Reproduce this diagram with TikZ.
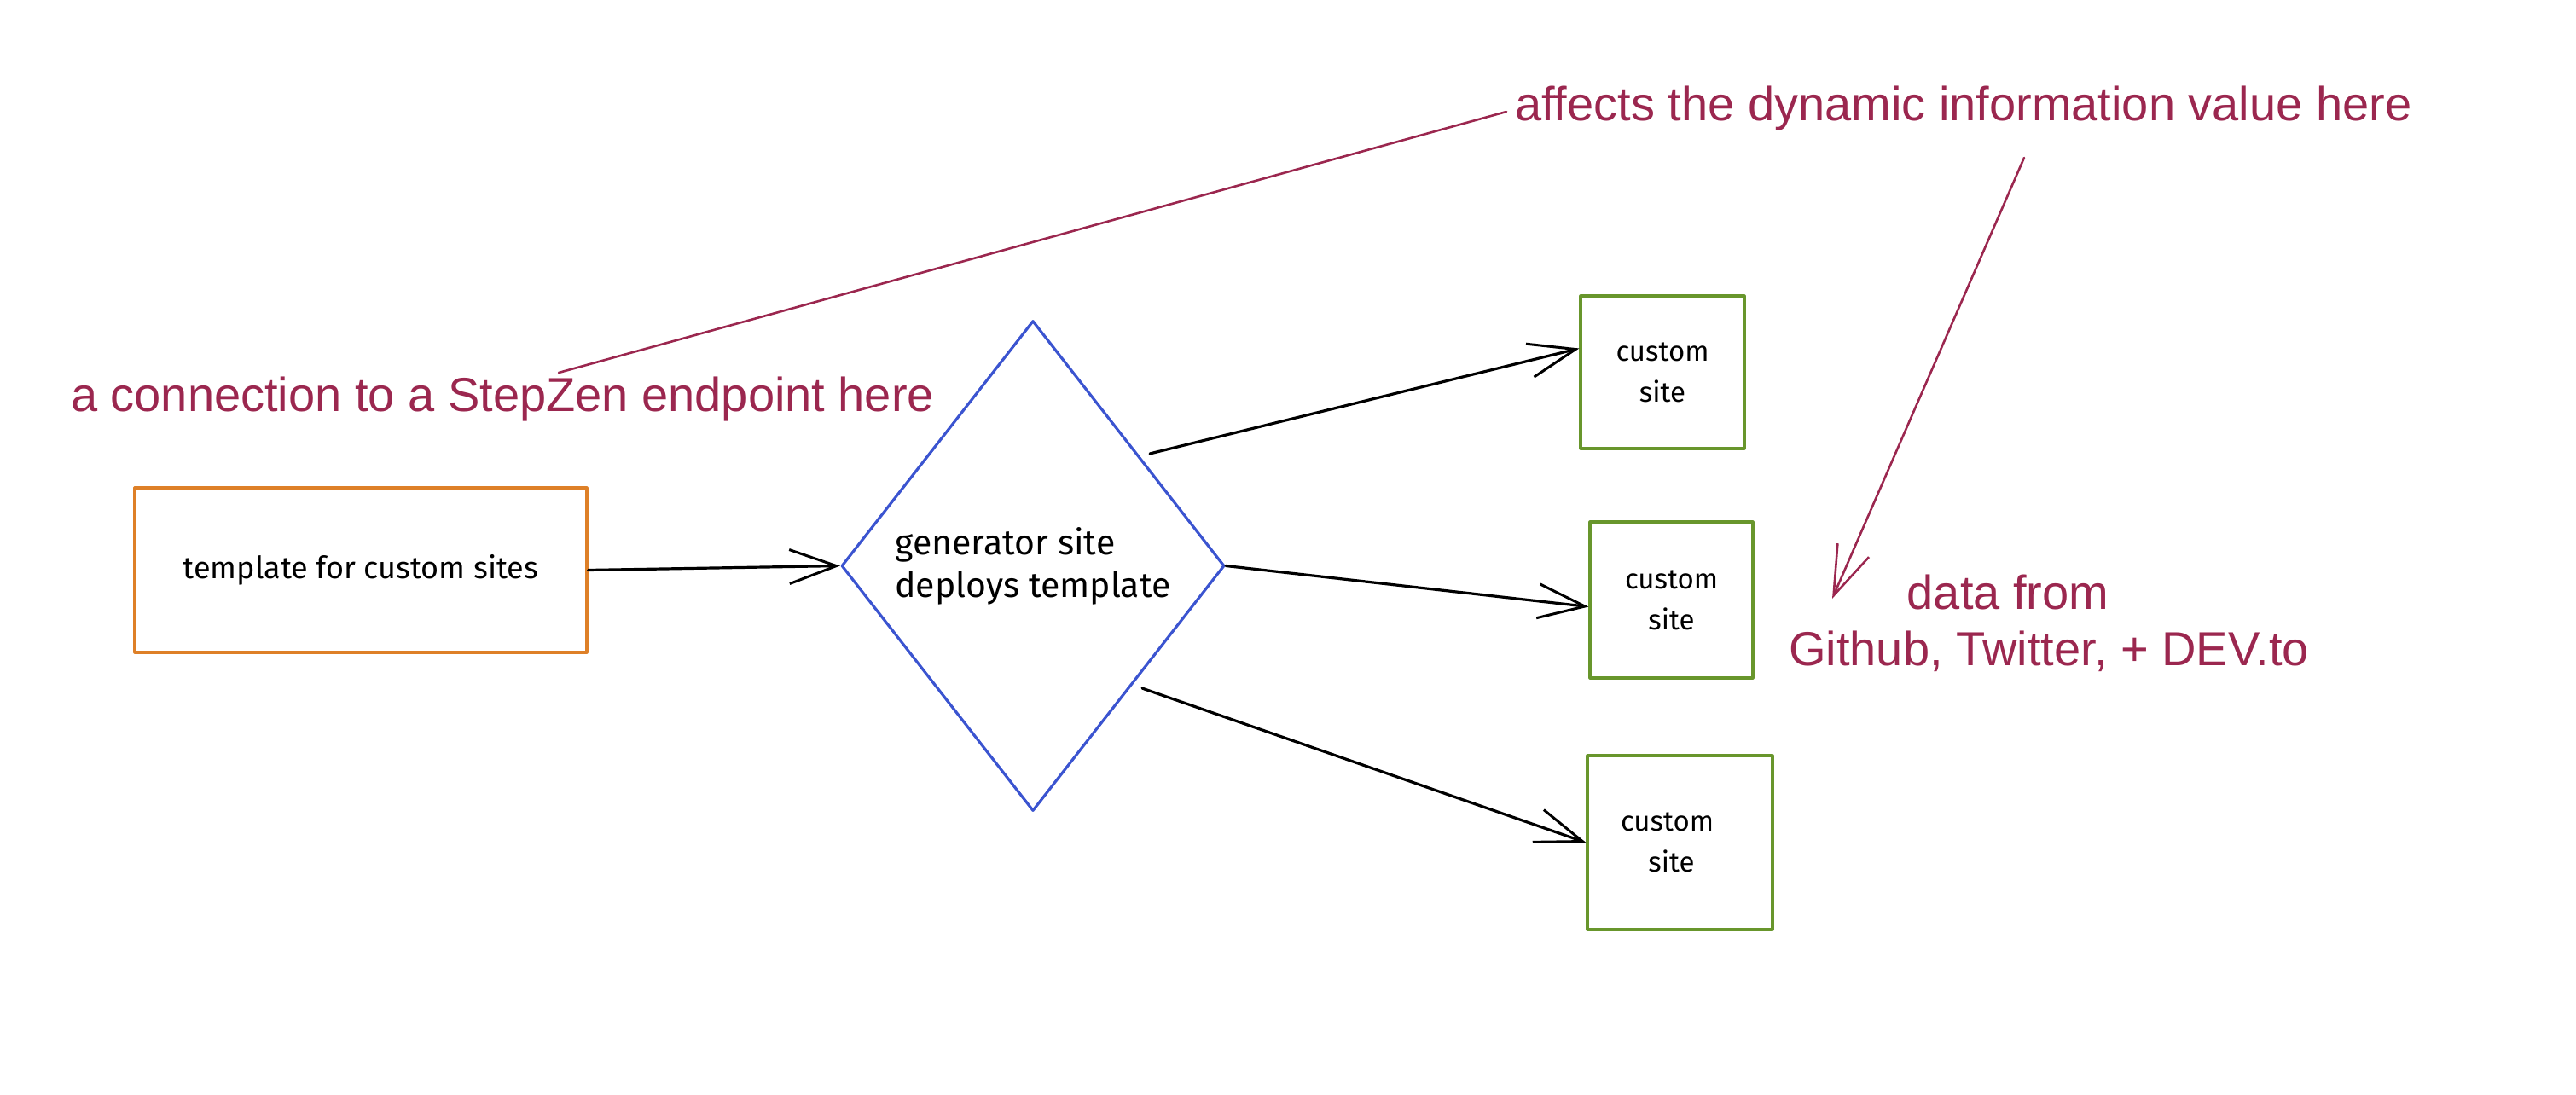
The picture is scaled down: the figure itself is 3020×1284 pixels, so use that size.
\documentclass[tikz,border=0pt]{standalone}
\usepackage{fontspec}
\setmainfont{Liberation Sans}
\newfontfamily\handfont{Fira Sans}
\usetikzlibrary{arrows.meta,shapes.geometric}
\definecolor{annot}{RGB}{155,39,79}
\definecolor{orangeline}{RGB}{222,128,40}
\definecolor{greenline}{RGB}{104,150,44}
\definecolor{blueline}{RGB}{59,84,208}
\tikzset{
  sketch/.style={line width=3.2pt, line join=round, line cap=round},
  tip/.style={-{Straight Barb[length=55pt,width=40pt,line width=3pt]}},
  hand/.style={font=\handfont\fontsize{36}{44}\selectfont, text=black},
  sitebox/.style={sketch, draw=greenline, rectangle, inner sep=0pt, align=center,
    font=\handfont\fontsize{33}{48}\selectfont},
  annottext/.style={text=annot, inner sep=0pt, font=\fontsize{56}{66}\selectfont},
  flow/.style={sketch, draw=black, tip},
  annotline/.style={sketch, draw=annot, line width=2.6pt},
}
\begin{document}
\begin{tikzpicture}[x=1pt,y=-1pt]
\useasboundingbox (0,0) rectangle (3020,1284);

% main nodes
\node[sketch, draw=orangeline, rectangle, minimum width=530pt, minimum height=193pt,
      hand] (tmpl) at (423,668.5) {template for custom sites};
\node[sketch, draw=blueline, diamond, shape aspect=0.78, inner sep=0pt,
      minimum width=449pt, minimum height=575pt, align=left,
      font=\handfont\fontsize{41}{50}\selectfont] (gen) at (1211,663.5)
      {generator site\\deploys template};
\node[sitebox, minimum width=192pt, minimum height=179pt] (b1) at (1949,436.5) {custom\\site};
\node[sitebox, minimum width=191pt, minimum height=183pt] (b2) at (1959.5,703.5) {custom\\site};
\node[sitebox, minimum width=217pt, minimum height=204pt] (b3) at (1969.5,988) {custom\hspace*{30pt}\\site\hspace*{20pt}};

% flow arrows
\draw[flow] (tmpl.east) -- (gen.west);
\draw[flow] ([shift={(24pt,-13pt)}]gen.north east) -- ([yshift=28pt]b1.west);
\draw[flow] (gen.east) -- ([yshift=-8pt]b2.west);
\draw[flow] ([shift={(15pt,1pt)}]gen.south east) -- (b3.west);

% annotations
\node[annottext, anchor=west] (conn) at (83,468) {a connection to a StepZen endpoint here};
\node[annottext, anchor=west] (aff) at (1776,127) {affects the dynamic information value here};
\node[annottext, align=center, font=\fontsize{56}{66}\selectfont] (data) at (2402,731)
      {data from\hspace*{96pt}\\Github, Twitter, + DEV.to};

\coordinate (cstart) at (655,437);
\coordinate (astart) at (2373,185);
\coordinate (aend) at (2148,702);
\draw[annotline] (cstart) -- ([shift={(-10pt,-4pt)}]aff.west);
\draw[annotline, -{Straight Barb[length=58pt,width=40pt,line width=2.6pt]}] (astart) -- (aend);
\end{tikzpicture}
\end{document}
